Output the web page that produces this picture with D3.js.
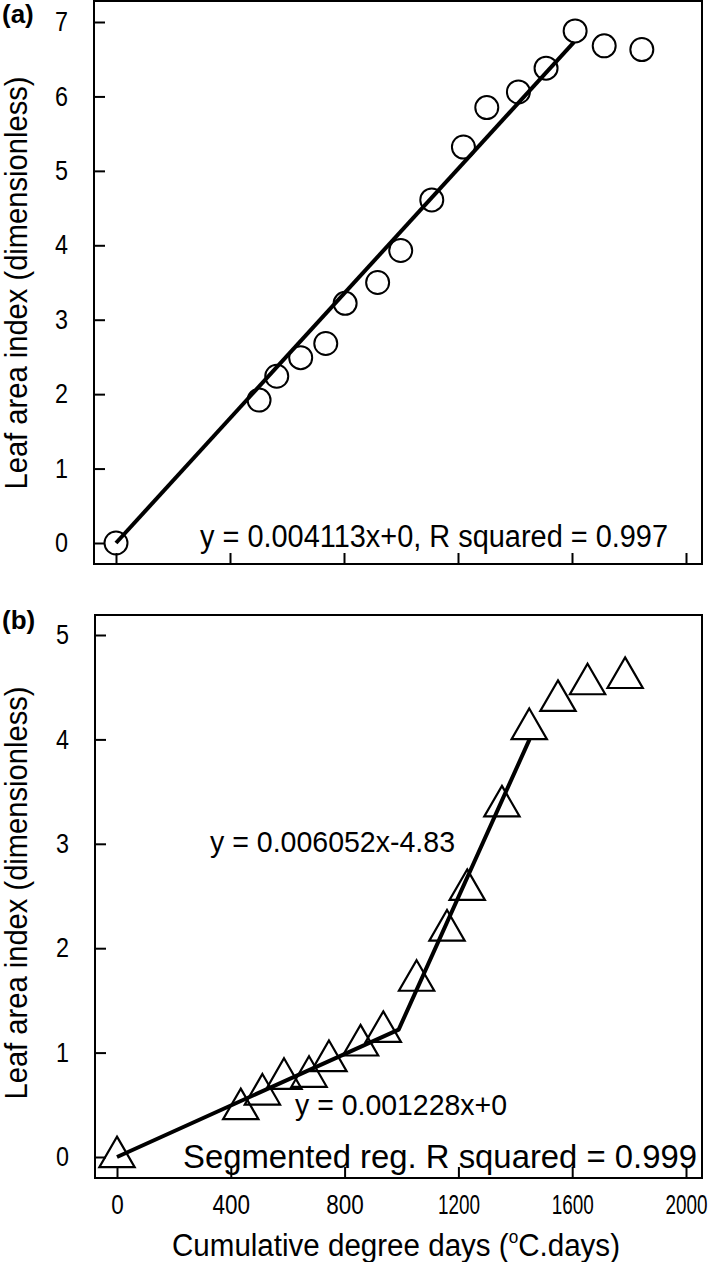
<!DOCTYPE html>
<html>
<head>
<meta charset="utf-8">
<script src="https://cdnjs.cloudflare.com/ajax/libs/d3/7.8.5/d3.min.js"></script>
<style>
body { margin: 0; background: #fff; }
text { font-family: "Liberation Sans", Arial, sans-serif; fill: #000; }
</style>
</head>
<body>
<div id="chart"></div>
<script>
// values
var xTicks = [0, 400, 800, 1200, 1600, 2000];
var yTicksA = [0, 1, 2, 3, 4, 5, 6, 7];
var yTicksB = [0, 1, 2, 3, 4, 5];

// (a) circles
var degDaysA = [0, 502, 564, 648, 736, 804, 918, 999, 1108, 1219, 1301, 1412, 1509, 1611, 1713, 1845];
var laiA     = [0, 1.92, 2.24, 2.49, 2.68, 3.22, 3.50, 3.93, 4.61, 5.32, 5.85, 6.06, 6.38, 6.88, 6.68, 6.63];
var fitAx = [0, 1607];
var fitAy = [0, 6.73];

// (b) triangles
var degDaysB = [0, 435, 511, 587, 675, 745, 856, 936, 1053, 1160, 1231, 1353, 1449, 1550, 1654, 1786];
var laiB     = [0, 0.46, 0.60, 0.75, 0.77, 0.92, 1.07, 1.20, 1.69, 2.17, 2.56, 3.36, 4.10, 4.37, 4.53, 4.59];
var fitBx = [0, 990, 1450];
var fitBy = [0, 1.22, 4.0];

var width = 709, height = 1262;

var svg = d3.select("#chart").append("svg")
    .attr("width", width)
    .attr("height", height);

// the figure's lettering is narrow, so squeeze labels to their measured width
function squeeze(sel, perChar, maxLen) {
  sel.attr("textLength", function(d) { return Math.min(String(d).length * perChar, maxLen); })
     .attr("lengthAdjust", "spacingAndGlyphs");
}

function drawPanel(p) {
  var g = svg.append("g");

  var x = d3.scaleLinear().domain([0, 2000]).range([p.x0, p.x1]);
  var y = d3.scaleLinear().domain([0, p.yMax]).range([p.y0, p.y1]);

  // frame
  g.append("rect")
      .attr("x", p.left).attr("y", p.top)
      .attr("width", p.right - p.left).attr("height", p.bottom - p.top)
      .attr("fill", "none").attr("stroke", "#000").attr("stroke-width", 2);

  // x axis, ticks pointing inwards
  var ax = g.append("g")
      .attr("transform", "translate(0," + p.bottom + ")")
      .call(d3.axisBottom(x).tickValues(xTicks).tickSizeInner(-11).tickSizeOuter(0)
        .tickPadding(17).tickFormat(p.xLabels ? d3.format("d") : ""));
  ax.select(".domain").remove();
  ax.selectAll("line").attr("stroke", "#000").attr("stroke-width", 2);
  ax.selectAll("text").style("font-size", "27px").attr("font-family", null).call(squeeze, 12.5, 42);

  var ay = g.append("g")
      .attr("transform", "translate(" + p.left + ",0)")
      .call(d3.axisLeft(y).tickValues(p.yTicks).tickSizeInner(-11).tickSizeOuter(0)
        .tickPadding(26).tickFormat(d3.format("d")));
  ay.select(".domain").remove();
  ay.selectAll("line").attr("stroke", "#000").attr("stroke-width", 2);
  ay.selectAll("text").style("font-size", "27px").attr("font-family", null).call(squeeze, 13, 13);

  // fitted line
  var line = d3.line()
      .x(function(d) { return x(d[0]); })
      .y(function(d) { return y(d[1]); });
  g.append("path")
      .datum(d3.zip(p.fitX, p.fitY))
      .attr("d", line)
      .attr("fill", "none").attr("stroke", "#000").attr("stroke-width", 4)
      .attr("stroke-linejoin", "round");

  // points
  var pts = d3.zip(p.xs, p.ys);
  if (p.symbol == "circle") {
    g.selectAll("circle.pt").data(pts).enter().append("circle")
        .attr("class", "pt")
        .attr("cx", function(d) { return x(d[0]); })
        .attr("cy", function(d) { return y(d[1]); })
        .attr("r", 11.5)
        .attr("fill", "none").attr("stroke", "#000").attr("stroke-width", 2);
  } else {
    var tri = d3.symbol().type(d3.symbolTriangle).size(540);
    g.selectAll("path.pt").data(pts).enter().append("path")
        .attr("class", "pt")
        .attr("d", tri)
        .attr("transform", function(d) { return "translate(" + x(d[0]) + "," + y(d[1]) + ")"; })
        .attr("fill", "none").attr("stroke", "#000").attr("stroke-width", 2.2)
        .attr("stroke-linejoin", "miter");
  }

  // y title
  g.append("text")
      .attr("transform", "translate(27," + p.titleY + ") rotate(-90)")
      .attr("text-anchor", "middle")
      .attr("textLength", 413).attr("lengthAdjust", "spacingAndGlyphs")
      .style("font-size", "31px")
      .text("Leaf area index (dimensionless)");

  // panel letter
  g.append("text")
      .attr("x", 2).attr("y", p.letterY)
      .style("font-size", "26px").style("font-weight", "bold")
      .text(p.letter);

  return {g: g, x: x, y: y};
}

var a = drawPanel({
  left: 94, right: 702, top: 1, bottom: 564,
  x0: 116, x1: 686, y0: 543, y1: 22, yMax: 7, yTicks: yTicksA,
  xs: degDaysA, ys: laiA, fitX: fitAx, fitY: fitAy,
  symbol: "circle", xLabels: false, titleY: 283, letter: "(a)", letterY: 23
});

a.g.append("text")
    .attr("x", 200).attr("y", 547)
    .attr("textLength", 468).attr("lengthAdjust", "spacingAndGlyphs")
    .style("font-size", "31px")
    .text("y = 0.004113x+0, R squared = 0.997");

var b = drawPanel({
  left: 95, right: 702, top: 615, bottom: 1178,
  x0: 117, x1: 686, y0: 1157, y1: 635, yMax: 5, yTicks: yTicksB,
  xs: degDaysB, ys: laiB, fitX: fitBx, fitY: fitBy,
  symbol: "triangle", xLabels: true, titleY: 893, letter: "(b)", letterY: 629
});

b.g.append("text")
    .attr("x", 210).attr("y", 852)
    .attr("textLength", 245).attr("lengthAdjust", "spacingAndGlyphs")
    .style("font-size", "30px")
    .text("y = 0.006052x-4.83");

b.g.append("text")
    .attr("x", 295).attr("y", 1115)
    .attr("textLength", 212).attr("lengthAdjust", "spacingAndGlyphs")
    .style("font-size", "30px")
    .text("y = 0.001228x+0");

b.g.append("text")
    .attr("x", 183).attr("y", 1168)
    .attr("textLength", 514).attr("lengthAdjust", "spacingAndGlyphs")
    .style("font-size", "33px")
    .text("Segmented reg. R squared = 0.999");

// x title
var xt = svg.append("text")
    .attr("x", 172).attr("y", 1256)
    .attr("textLength", 448).attr("lengthAdjust", "spacingAndGlyphs")
    .style("font-size", "31px");
xt.append("tspan").text("Cumulative degree days (");
xt.append("tspan").attr("dy", -13).style("font-size", "18px").text("o");
xt.append("tspan").attr("dy", 13).text("C.days)");
</script>
</body>
</html>
